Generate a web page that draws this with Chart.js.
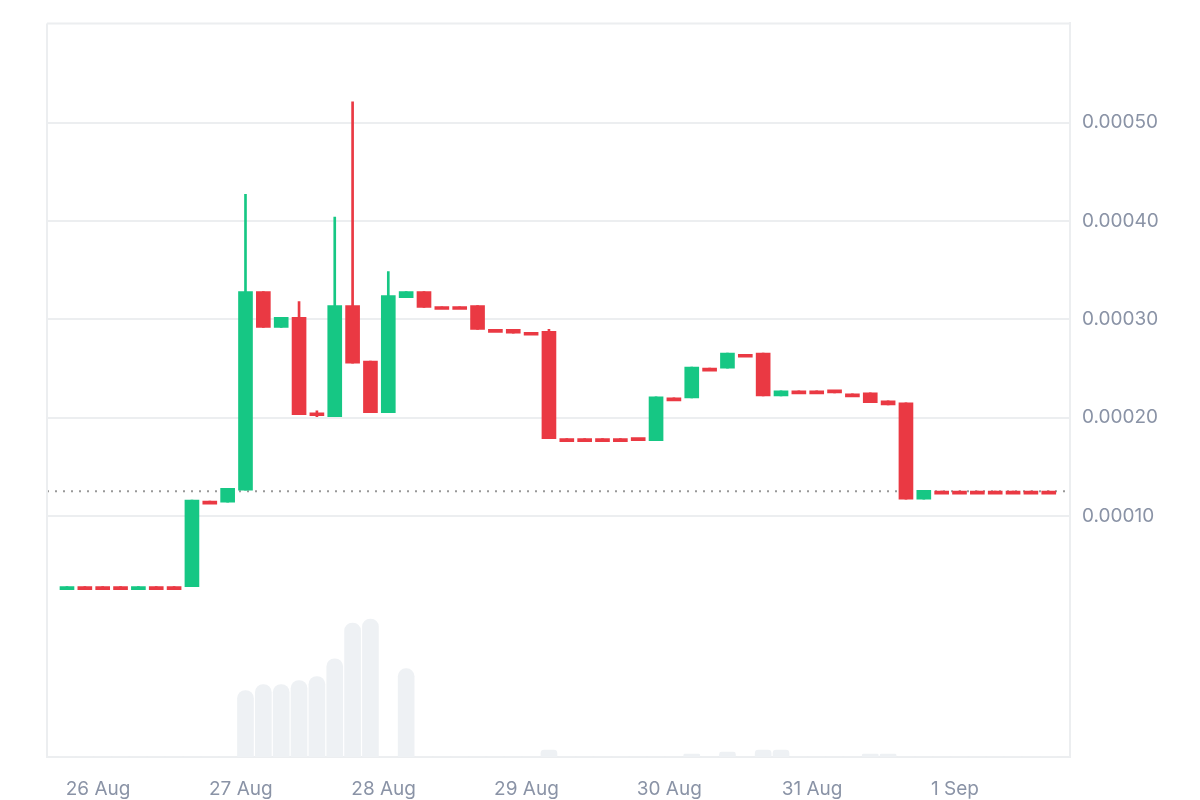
<!DOCTYPE html>
<html><head><meta charset="utf-8">
<script src="https://cdn.jsdelivr.net/npm/chart.js@4.4.1/dist/chart.umd.min.js"></script>
<style>html,body{margin:0;padding:0;background:#fff}#wrap{width:1200px;height:800px}</style>
</head><body><div id="wrap"><canvas id="c" width="1200" height="800"></canvas></div>
<script>
// 3-hour candles, 26 Aug -> 1 Sep
const opens  = [2.83,2.83,2.83,2.83,2.83,2.83,2.83,2.83,11.52,11.41,12.63,32.83,29.19,30.20,20.51,20.10,31.41,25.76,20.51,32.22,32.83,31.31,31.31,31.41,28.99,28.99,28.69,28.79,17.88,17.88,17.88,17.88,17.88,17.68,22.02,22.02,25.05,25.05,26.46,26.57,22.22,22.73,22.73,22.73,22.42,22.53,21.72,21.52,11.72,12.53,12.53,12.53,12.53,12.53,12.53,12.53];
const highs  = [2.83,2.83,2.83,2.83,2.83,2.83,2.83,11.62,11.52,12.83,42.73,32.83,30.20,31.82,20.71,40.40,52.12,25.76,34.85,32.83,32.83,31.31,31.31,31.41,28.99,28.99,28.69,28.99,17.88,17.88,17.88,17.88,17.88,22.12,22.02,25.15,25.05,26.57,26.46,26.57,22.73,22.73,22.73,22.73,22.42,22.53,21.72,21.52,12.63,12.53,12.53,12.53,12.53,12.53,12.53,12.53];
const lows   = [2.83,2.83,2.83,2.83,2.83,2.83,2.83,2.83,11.52,11.41,12.63,29.19,29.19,20.30,20.10,20.10,25.56,20.51,20.51,32.22,31.21,31.31,31.31,28.99,28.99,28.59,28.69,17.88,17.88,17.88,17.88,17.88,17.68,17.68,22.02,22.02,25.05,25.05,26.46,22.22,22.22,22.73,22.73,22.53,22.42,21.52,21.31,11.72,11.72,12.53,12.53,12.53,12.53,12.53,12.53,12.53];
const closes = [2.83,2.83,2.83,2.83,2.83,2.83,2.83,11.62,11.52,12.83,32.83,29.19,30.20,20.30,20.51,31.41,25.56,20.51,32.42,32.83,31.21,31.31,31.31,28.99,28.99,28.59,28.69,17.88,17.88,17.88,17.88,17.88,17.68,22.12,22.02,25.15,25.05,26.57,26.46,22.22,22.73,22.73,22.73,22.53,22.42,21.52,21.31,11.72,12.63,12.53,12.53,12.53,12.53,12.53,12.53,12.53];
const volumes = [0,0,0,0,0,0,0,0,0,0,67,73,73,77,81,99,135,139,0,89,0,0,0,0,0,0,0,7,0,0,0,0,0,0,0,3,0,5,0,7,7,0,0,0,0,3,3,0,0,0,0,0,0,0,0,0];
const dayLabels = ['26 Aug','27 Aug','28 Aug','29 Aug','30 Aug','31 Aug','1 Sep'];
const dayPositions = [1.74,9.74,17.74,25.74,33.74,41.74,49.74];
const priceTicks = [0.0001,0.0002,0.0003,0.0004,0.0005];
const currentPrice = 12.53;

const S = 1e-5;
const GREEN = '#16c784', RED = '#ea3943';
const isUp = opens.map((o,i)=> closes[i] > o || (closes[i]===o && (i===0 || i===4)));
const cols = isUp.map(u => u ? GREEN : RED);

const body = opens.map((o,i)=>({x:i, y:[o*S, closes[i]*S]}));
const wick = opens.map((o,i)=>({x:i, y:[lows[i]*S, highs[i]*S]}));
const vol = volumes.map((v,i)=>({x:i, y:v}));
const xmin=-1.12, xmax=56.19;

new Chart(document.getElementById('c'), {
  data: { datasets: [
    {type:'bar', data: vol, yAxisID:'yv', backgroundColor:'#eef1f4', barThickness:16, borderRadius:{topLeft:8,topRight:8}, borderSkipped:'bottom', grouped:false, order:5},
    {type:'line', data:[{x:xmin,y:currentPrice*S},{x:xmax,y:currentPrice*S}], borderColor:'#999', borderWidth:2, borderDash:[2,6], pointRadius:0, yAxisID:'y', order:4},
    {type:'bar', data: wick, yAxisID:'y', backgroundColor: cols, barThickness:2, grouped:false, order:2},
    {type:'bar', data: body, yAxisID:'y', backgroundColor: cols, barThickness:14, minBarLength:3, grouped:false, borderSkipped:false, order:1}
  ]},
  options: {
    responsive:false, animation:false,
    layout:{padding:{left:47, top:14}},
    plugins:{legend:{display:false}, tooltip:{enabled:false}},
    scales:{
      x:{type:'linear', min:xmin, max:xmax, offset:false,
        grid:{display:false, drawTicks:false}, border:{color:'#eceef0', width:2},
        afterBuildTicks: a => { a.ticks = dayPositions.map(v=>({value:v})); },
        afterFit: a => { a.height = 43; },
        ticks:{autoSkip:false, maxRotation:0, color:'#8a93a6', font:{family:'Inter', size:19}, padding:21,
          callback:(v)=>{const k=dayPositions.indexOf(v); return k>=0?dayLabels[k]:'';}}},
      y:{position:'right', min:-0.000145, max:0.000601,
        grid:{color:'#eceef0', lineWidth:2, drawTicks:false}, border:{color:'#eceef0', width:2},
        afterBuildTicks: a => { a.ticks = priceTicks.map(v=>({value:v})); },
        afterFit: a => { a.width = 130; },
        ticks:{color:'#8a93a6', font:{family:'Inter', size:19}, padding:12, callback:v=>v.toFixed(5)}},
      yv:{display:false, min:0, max:739}
    }
  },
  plugins:[{id:'frame', afterDraw(ch){const c=ch.ctx,a=ch.chartArea;c.save();c.strokeStyle='#eceef0';c.lineWidth=2;c.beginPath();c.moveTo(a.left,a.top);c.lineTo(a.right,a.top);c.moveTo(a.left,a.top);c.lineTo(a.left,a.bottom);c.stroke();c.restore();}}]
});
</script></body></html>
